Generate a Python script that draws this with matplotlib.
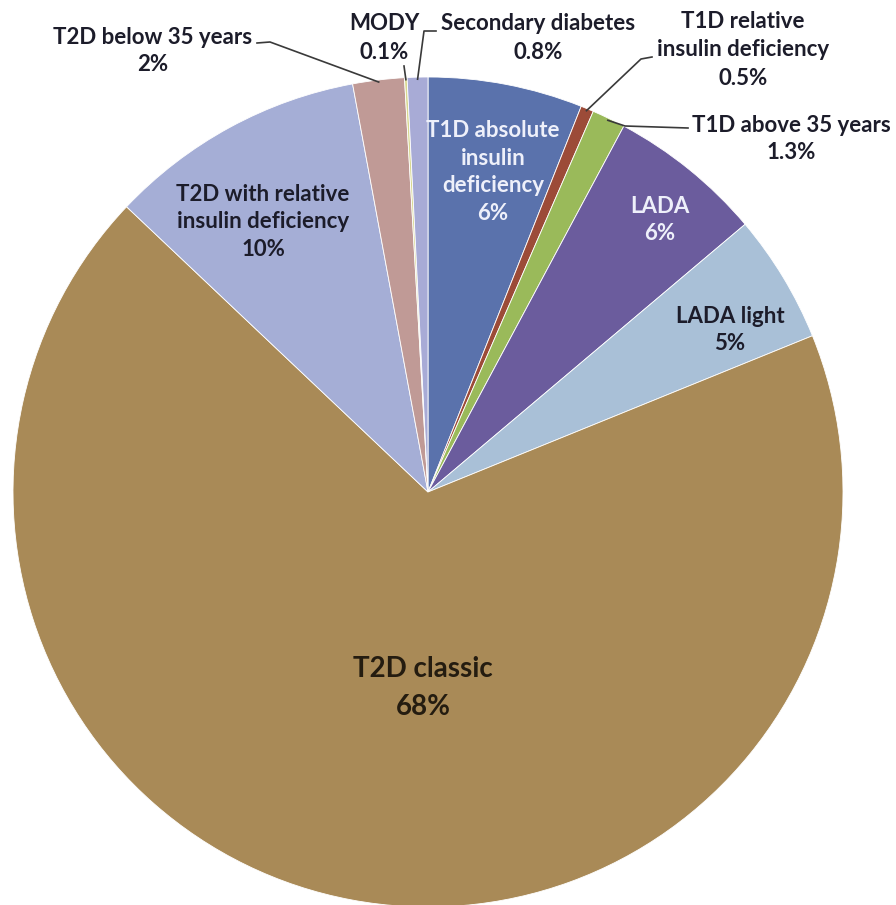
import numpy as np
import matplotlib
matplotlib.use('Agg')
import matplotlib.pyplot as plt

plt.rcParams['font.family'] = ['Lato', 'DejaVu Sans']

W, H = 896, 905

# clockwise from 12 o'clock
categories = ['T1D absolute insulin deficiency', 'T1D relative insulin deficiency',
              'T1D above 35 years', 'LADA', 'LADA light', 'T2D classic',
              'T2D with relative insulin deficiency', 'T2D below 35 years',
              'MODY', 'Secondary diabetes']
shares = [6, 0.5, 1.3, 6, 5, 68, 10, 2, 0.1, 0.8]
pct_labels = ['6%', '0.5%', '1.3%', '6%', '5%', '68%', '10%', '2%', '0.1%', '0.8%']
label_names = ['T1D absolute\ninsulin\ndeficiency', 'T1D relative\ninsulin deficiency',
               'T1D above 35 years', 'LADA', 'LADA light', 'T2D classic',
               'T2D with relative\ninsulin deficiency', 'T2D below 35 years',
               'MODY', 'Secondary diabetes']
slice_colors = ['#5a72ac', '#9c4b38', '#9aba5a', '#6b5c9d', '#a9c0d7', '#a98a57',
                '#a5aed6', '#c09a96', '#d8d890', '#a8abd6']

DARK = '#1c1c2a'
LIGHT = '#eef0fa'

# label layout (image pixel coords, y down)
label_pos = {
    0: (493, 172, LIGHT, 16, 1.4),
    1: (743, 50, DARK, 16, 1.45),
    2: (791, 139, DARK, 16, 1.4),
    3: (660, 220, LIGHT, 16, 1.4),
    4: (730, 330, DARK, 16, 1.4),
    5: (423, 688, '#241c10', 20, 1.55),
    6: (263, 222, DARK, 16, 1.4),
    7: (153, 51, DARK, 16, 1.4),
    8: (384, 38, DARK, 16, 1.45),
    9: (538, 38, DARK, 16, 1.45),
}
# leader line bends for the outside labels (image coords), pie end added from wedge angle
leaders = {
    1: [(652, 57), (641, 59)],
    2: [(688, 128), (625, 126)],
    7: [(257, 43), (270, 42)],
    8: [(404, 66)],
    9: [(436, 31), (424, 31)],
}

cx, cy, R = 428, H - 492, 415

fig = plt.figure(figsize=(W / 100, H / 100), dpi=100)
ax = fig.add_axes([0, 0, 1, 1])

wedges, _ = ax.pie(shares, colors=slice_colors, startangle=90, counterclock=False,
                   center=(cx, cy), radius=R, frame=True,
                   wedgeprops=dict(edgecolor='white', linewidth=0.6))
ax.set_xlim(0, W)
ax.set_ylim(0, H)
ax.set_aspect('equal')
ax.axis('off')

for i, (x, y, col, fs, ls) in label_pos.items():
    ax.text(x, H - y, label_names[i] + '\n' + pct_labels[i], ha='center', va='center',
            color=col, fontsize=fs, fontweight='bold', linespacing=ls)

for i, pts in leaders.items():
    w = wedges[i]
    mid = np.deg2rad((w.theta1 + w.theta2) / 2)
    end = (cx + R * 0.995 * np.cos(mid), cy + R * 0.995 * np.sin(mid))
    xs = [p[0] for p in pts] + [end[0]]
    ys = [H - p[1] for p in pts] + [end[1]]
    ax.plot(xs, ys, color='#3a3a3a', lw=1.2)

fig.savefig('out.png', dpi=100)
